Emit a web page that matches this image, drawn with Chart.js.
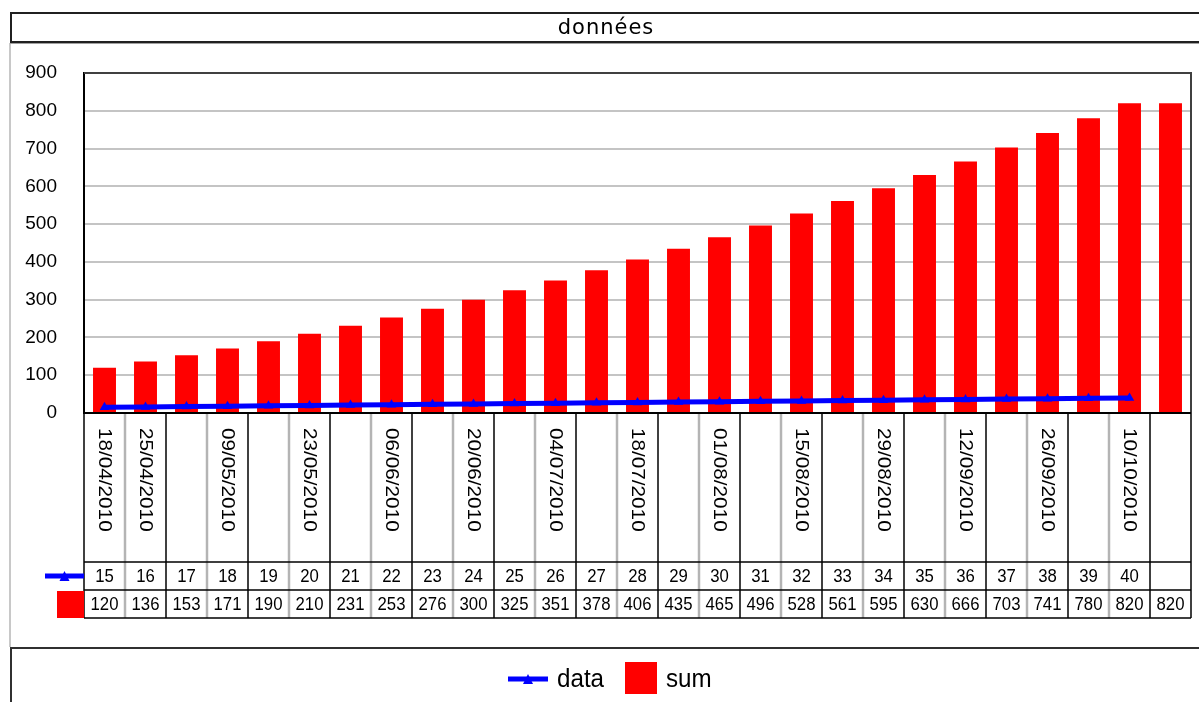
<!DOCTYPE html>
<html>
<head>
<meta charset="utf-8">
<title>données</title>
<script src="https://cdn.jsdelivr.net/npm/chart.js@4.4.1/dist/chart.umd.min.js"></script>
<style>
  html, body { margin: 0; padding: 0; background: #fff; }
  canvas { display: block; }
</style>
</head>
<body>
<canvas id="chart" width="1199" height="702"></canvas>
<script>
// weekly categories, only every other date gets a label
const dateLabels = ['18/04/2010', '25/04/2010', '', '09/05/2010', '', '23/05/2010', '', '06/06/2010', '',
    '20/06/2010', '', '04/07/2010', '', '18/07/2010', '', '01/08/2010', '', '15/08/2010', '',
    '29/08/2010', '', '12/09/2010', '', '26/09/2010', '', '10/10/2010', '']
const dataValues = [15, 16, 17, 18, 19, 20, 21, 22, 23, 24, 25, 26, 27, 28, 29, 30, 31, 32, 33,
    34, 35, 36, 37, 38, 39, 40, null]
const sumValues = [120, 136, 153, 171, 190, 210, 231, 253, 276, 300, 325, 351, 378, 406, 435, 465,
    496, 528, 561, 595, 630, 666, 703, 741, 780, 820, 820]
const yMax = 900
const yStep = 100

const FONT = '"Liberation Sans", Arial, sans-serif'
const BLUE = '#0000ff'
const RED = '#ff0000'

function blueKey(ctx, x1, x2, y) {
    ctx.strokeStyle = BLUE
    ctx.lineWidth = 5
    ctx.beginPath()
    ctx.moveTo(x1, y)
    ctx.lineTo(x2, y)
    ctx.stroke()
    const mx = (x1 + x2) / 2
    ctx.fillStyle = BLUE
    ctx.beginPath()
    ctx.moveTo(mx, y - 5)
    ctx.lineTo(mx + 5, y + 5)
    ctx.lineTo(mx - 5, y + 5)
    ctx.closePath()
    ctx.fill()
}

// draws the title box, the data table under the plot and the legend box
const chartFrame = {
    id: 'chartFrame',
    afterDraw(chart) {
        const ctx = chart.ctx
        const area = chart.chartArea
        const xs = chart.scales.x
        const n = dateLabels.length
        const w = (area.right - area.left) / n
        const tTop = area.bottom
        const labelBottom = tTop + 149
        const dataBottom = labelBottom + 28
        const sumBottom = dataBottom + 28

        ctx.save()

        // title box
        ctx.fillStyle = '#c8c8c8'
        ctx.fillRect(9, 43, 2, 604)
        ctx.strokeStyle = '#202020'
        ctx.lineWidth = 2
        ctx.beginPath()
        ctx.moveTo(10, 13); ctx.lineTo(1199, 13)
        ctx.moveTo(11, 13); ctx.lineTo(11, 43)
        ctx.moveTo(10, 42); ctx.lineTo(1199, 42)
        ctx.stroke()
        ctx.fillStyle = '#a0a0a0'
        ctx.fillRect(10, 43, 1189, 1)
        ctx.fillStyle = '#000'
        ctx.font = '21px "DejaVu Sans", sans-serif'
        ctx.letterSpacing = '1px'
        ctx.textAlign = 'center'
        ctx.textBaseline = 'middle'
        ctx.fillText('données', 606, 29)
        ctx.letterSpacing = '0px'

        // plot frame top and right
        ctx.strokeStyle = '#404040'
        ctx.lineWidth = 2
        ctx.beginPath()
        ctx.moveTo(area.left, area.top)
        ctx.lineTo(area.right, area.top)
        ctx.lineTo(area.right, tTop)
        ctx.stroke()

        // table cells
        for (let k = 0; k <= n; k++) {
            const x = area.left + k * w
            const dark = k % 2 === 0 || k === n
            ctx.strokeStyle = dark ? '#000' : '#b4b4b4'
            ctx.lineWidth = dark ? 1.5 : 2.5
            ctx.beginPath()
            ctx.moveTo(x, tTop)
            ctx.lineTo(x, sumBottom)
            ctx.stroke()
        }
        ctx.strokeStyle = '#000'
        ctx.lineWidth = 1.5
        ctx.beginPath()
        ;[labelBottom, dataBottom, sumBottom].forEach(y => {
            ctx.moveTo(area.left, y)
            ctx.lineTo(area.right, y)
        })
        ctx.stroke()
        ctx.lineWidth = 2
        ctx.beginPath()
        ctx.moveTo(area.left, tTop)
        ctx.lineTo(area.right, tTop)
        ctx.stroke()

        // rotated date labels, reading downwards
        ctx.fillStyle = '#000'
        ctx.font = '19px ' + FONT
        ctx.textAlign = 'left'
        ctx.textBaseline = 'middle'
        dateLabels.forEach((label, i) => {
            if (!label) return
            ctx.save()
            ctx.translate(xs.getPixelForValue(i), tTop + 15)
            ctx.rotate(Math.PI / 2)
            ctx.scale(1.09, 1)
            ctx.fillText(label, 0, 0)
            ctx.restore()
        })

        // value rows
        ctx.font = '18px ' + FONT
        ctx.textAlign = 'center'
        const rows = [[dataValues, (labelBottom + dataBottom) / 2], [sumValues, (dataBottom + sumBottom) / 2]]
        rows.forEach(([values, y]) => {
            values.forEach((v, i) => {
                if (v === null) return
                ctx.save()
                ctx.translate(xs.getPixelForValue(i), y + 1)
                ctx.scale(0.93, 1)
                ctx.fillText(String(v), 0, 0)
                ctx.restore()
            })
        })

        // row keys
        blueKey(ctx, 45, area.left, (labelBottom + dataBottom) / 2)
        ctx.fillStyle = RED
        ctx.fillRect(57, dataBottom + 1, area.left - 57, 27)

        // legend box
        ctx.strokeStyle = '#303030'
        ctx.lineWidth = 2
        ctx.beginPath()
        ctx.moveTo(10, 648); ctx.lineTo(1199, 648)
        ctx.moveTo(11, 648); ctx.lineTo(11, 702)
        ctx.stroke()
        blueKey(ctx, 508, 548, 679)
        ctx.fillStyle = RED
        ctx.fillRect(625, 662, 32, 32)
        ctx.fillStyle = '#000'
        ctx.font = '26px ' + FONT
        ctx.textAlign = 'left'
        ctx.textBaseline = 'middle'
        ;[['data', 557], ['sum', 666]].forEach(([t, x]) => {
            ctx.save()
            ctx.translate(x, 680)
            ctx.scale(0.93, 1)
            ctx.fillText(t, 0, 0)
            ctx.restore()
        })

        ctx.restore()
    }
}

const ctx = document.getElementById('chart')

new Chart(ctx, {
    type: 'bar',
    data: {
        labels: dateLabels.map((d, i) => d || ' '.repeat(i + 1)),
        datasets: [{
            type: 'line',
            label: 'data',
            data: dataValues,
            borderColor: BLUE,
            backgroundColor: BLUE,
            borderWidth: 5,
            pointStyle: 'triangle',
            pointRadius: 5.5,
            pointBorderWidth: 0,
            pointBackgroundColor: BLUE,
            tension: 0,
            order: 0
        }, {
            label: 'sum',
            data: sumValues,
            backgroundColor: RED,
            barPercentage: 0.56,
            categoryPercentage: 1,
            order: 1
        }]
    },
    options: {
        responsive: false,
        animation: false,
        devicePixelRatio: 1,
        layout: {
            padding: { left: 10, right: 8, top: 73, bottom: 289 }
        },
        plugins: {
            legend: { display: false },
            tooltip: { enabled: false }
        },
        scales: {
            x: {
                display: false
            },
            y: {
                min: 0,
                max: yMax,
                afterFit: scale => { scale.width = 74 },
                ticks: {
                    stepSize: yStep,
                    padding: 27,
                    color: '#000',
                    font: { family: FONT, size: 19 }
                },
                grid: {
                    color: '#c4c4c4',
                    lineWidth: 2,
                    drawTicks: false
                },
                border: { color: '#000', width: 2 }
            }
        }
    },
    plugins: [chartFrame]
})
</script>
</body>
</html>
